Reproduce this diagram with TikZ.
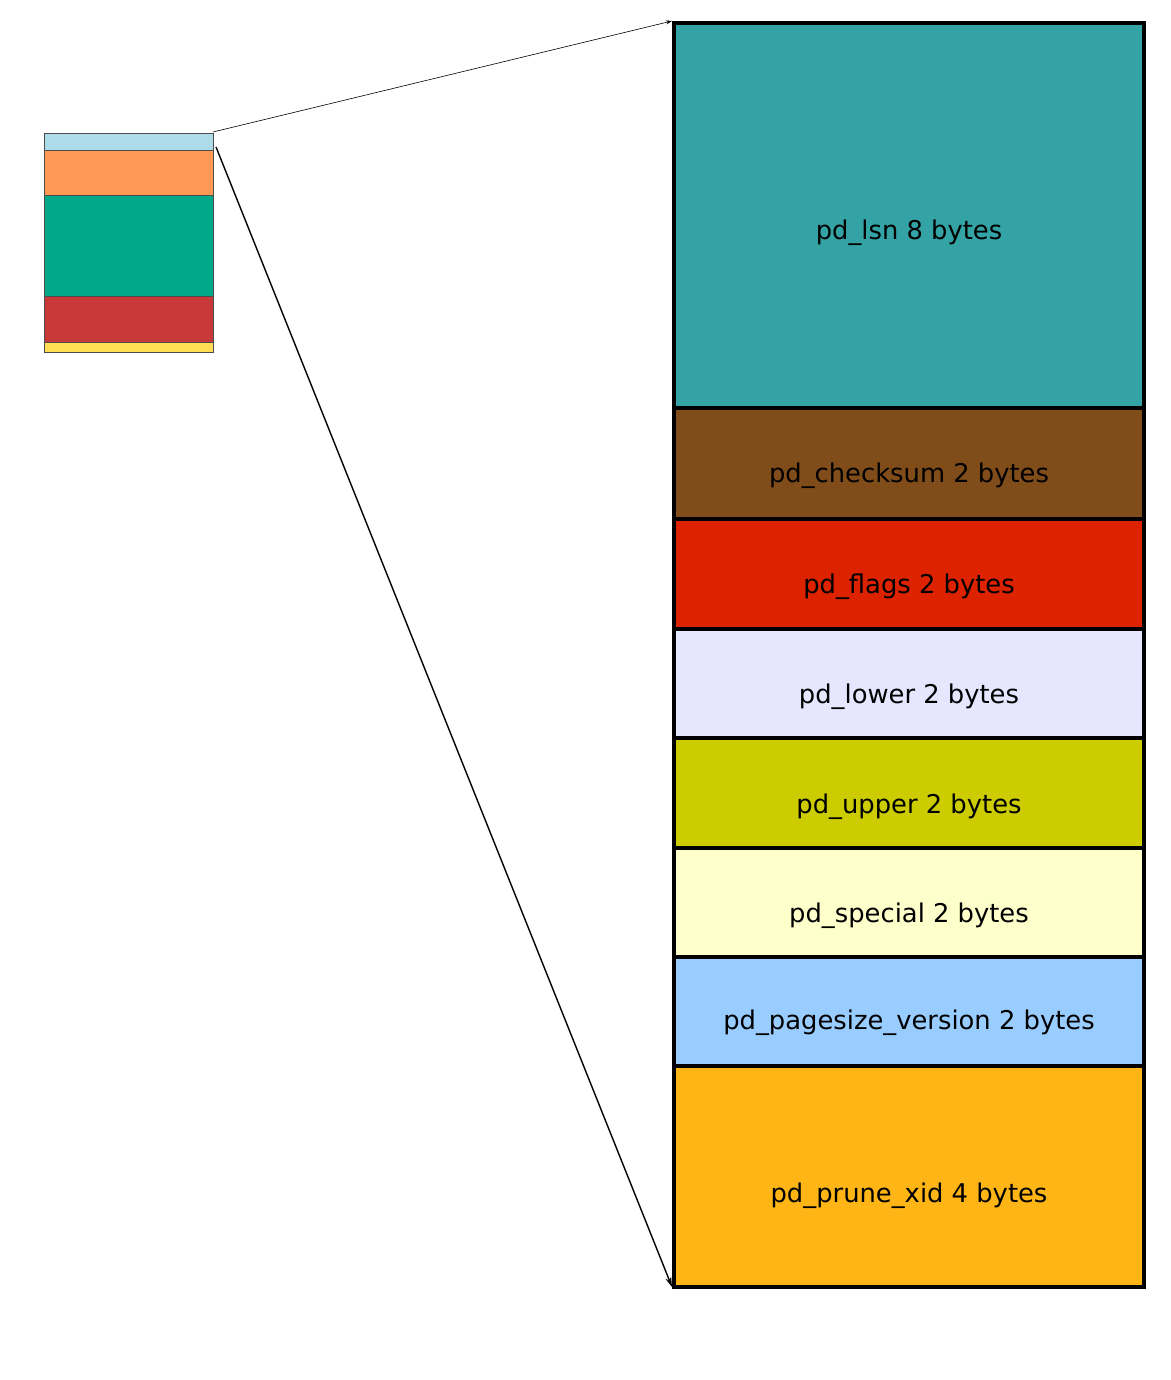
\documentclass[tikz,border=0pt]{standalone}
\usepackage{fontspec}
\setmainfont{DejaVu Sans}
\usetikzlibrary{arrows.meta}
\definecolor{cLsn}{HTML}{33A3A5}
\definecolor{cChk}{HTML}{804C1A}
\definecolor{cFlg}{HTML}{DD2200}
\definecolor{cLow}{HTML}{E6E6FF}
\definecolor{cUpp}{HTML}{CCCC00}
\definecolor{cSpc}{HTML}{FFFFCC}
\definecolor{cPgs}{HTML}{99CCFF}
\definecolor{cPrn}{HTML}{FFB515}
\definecolor{sBlue}{HTML}{ADDBE7}
\definecolor{sOrange}{HTML}{FF9955}
\definecolor{sGreen}{HTML}{00A88A}
\definecolor{sRed}{HTML}{C83838}
\definecolor{sYellow}{HTML}{FFDD55}
\tikzset{
  bigcell/.style={draw=black, line width=3.4pt},
  smallcell/.style={draw=black!70, line width=0.6pt},
  lbl/.style={font=\fontsize{25.8}{30}\selectfont, text=black, inner sep=0pt},
}
\begin{document}
\begin{tikzpicture}[x=1pt,y=-1pt]
\useasboundingbox (0,0) rectangle (1170,1380);
% small stack
\filldraw[smallcell, fill=sBlue] (44,133) rectangle (213,150);
\filldraw[smallcell, fill=sOrange] (44,150) rectangle (213,195);
\filldraw[smallcell, fill=sGreen] (44,195) rectangle (213,296);
\filldraw[smallcell, fill=sRed] (44,296) rectangle (213,342);
\filldraw[smallcell, fill=sYellow] (44,342) rectangle (213,352);
\coordinate (sTop) at (213,132);
\coordinate (sBot) at (216,147);
% big stack
\filldraw[bigcell, fill=cLsn] (674,23) rectangle (1144,408);
\filldraw[bigcell, fill=cChk] (674,408) rectangle (1144,519);
\filldraw[bigcell, fill=cFlg] (674,519) rectangle (1144,629);
\filldraw[bigcell, fill=cLow] (674,629) rectangle (1144,738);
\filldraw[bigcell, fill=cUpp] (674,738) rectangle (1144,848);
\filldraw[bigcell, fill=cSpc] (674,848) rectangle (1144,957);
\filldraw[bigcell, fill=cPgs] (674,957) rectangle (1144,1066);
\filldraw[bigcell, fill=cPrn] (674,1066) rectangle (1144,1287);
\coordinate (bTop) at (672,21);
\coordinate (bBot) at (672,1287);
\node[lbl] (tLsn) at (909,233) {pd\_lsn 8 bytes};
\node[lbl] (tChk) at (909,476) {pd\_checksum 2 bytes};
\node[lbl] (tFlg) at (909,587) {pd\_flags 2 bytes};
\node[lbl] (tLow) at (909,697) {pd\_lower 2 bytes};
\node[lbl] (tUpp) at (909,807) {pd\_upper 2 bytes};
\node[lbl] (tSpc) at (909,916) {pd\_special 2 bytes};
\node[lbl] (tPgs) at (909,1023) {pd\_pagesize\_version 2 bytes};
\node[lbl] (tPrn) at (909,1196) {pd\_prune\_xid 4 bytes};
% connectors
\draw[line width=0.6pt, -{Stealth[length=6pt,width=4pt]}] (sTop) -- (bTop);
\draw[line width=1.4pt, -{Stealth[length=10pt,width=6pt]}] (sBot) -- (bBot);
\end{tikzpicture}
\end{document}
